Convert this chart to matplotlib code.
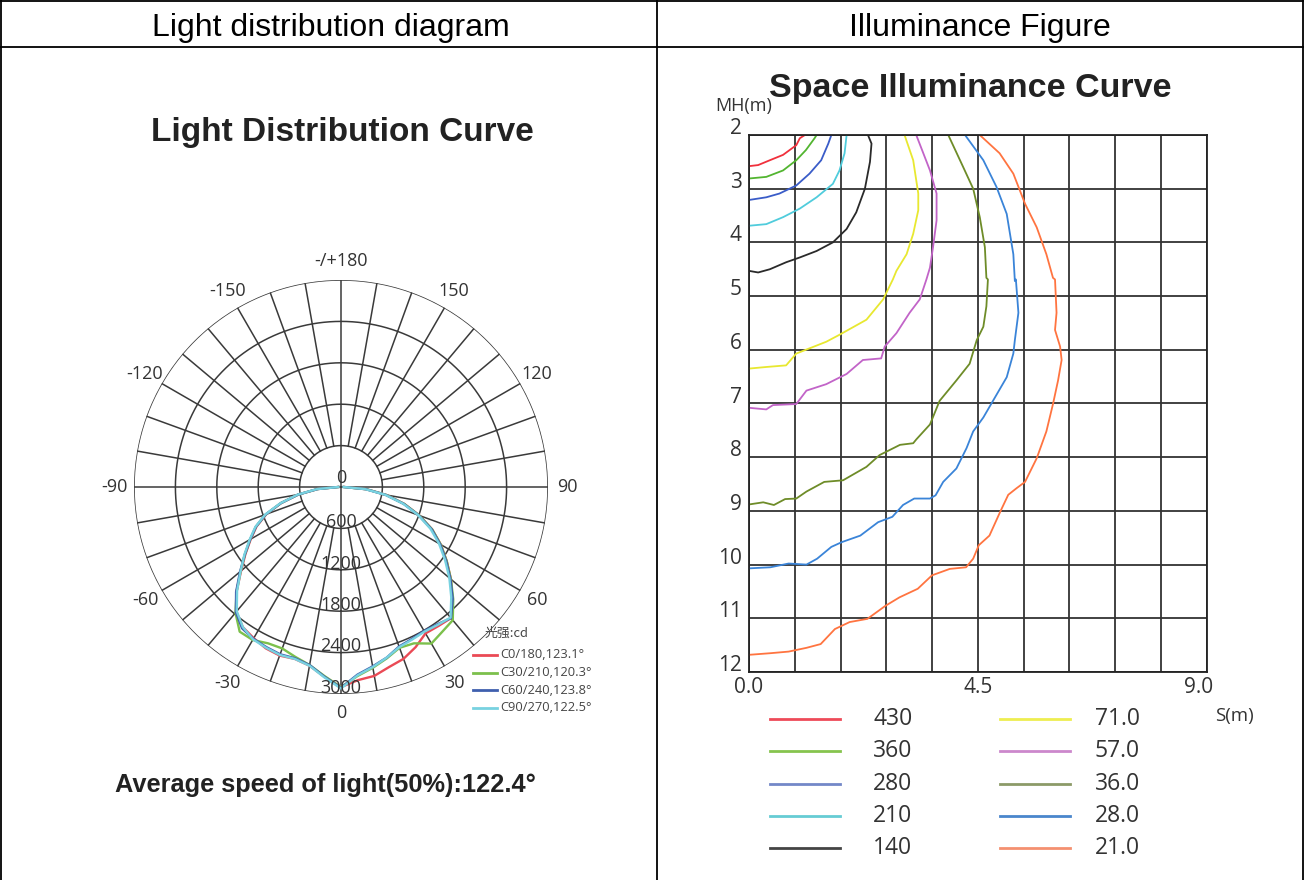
import numpy as np
import matplotlib.pyplot as plt
from matplotlib.lines import Line2D

W, H = 1304, 880

# ---- light distribution data (cd), angles in degrees, 0 = straight down ----
left_angles = [-90, -85, -80, -75, -70, -65, -60, -55, -50, -45, -40, -35, -30, -25, -20, -15, -10, -5, 0]
right_angles = [5, 10, 15, 20, 25, 30, 35, 40, 45, 50, 55, 60, 65, 70, 75, 80, 85, 90]

c0_left = [40, 340, 630, 900, 1150, 1350, 1510, 1690, 1890, 2140, 2360, 2480, 2530, 2580, 2600, 2580, 2630, 2760, 2900]
c30_left = [40, 340, 630, 900, 1160, 1360, 1520, 1700, 1900, 2140, 2380, 2560, 2560, 2500, 2490, 2550, 2620, 2750, 2900]
c60_left = [40, 340, 630, 900, 1160, 1360, 1520, 1700, 1910, 2150, 2370, 2500, 2540, 2560, 2580, 2570, 2620, 2760, 2910]
c90_left = [40, 350, 640, 910, 1170, 1370, 1530, 1710, 1900, 2130, 2350, 2480, 2550, 2570, 2590, 2580, 2630, 2770, 2920]

c0_right = [2810, 2780, 2700, 2650, 2560, 2450, 2460, 2480, 2280, 2080, 1870, 1670, 1460, 1210, 950, 670, 370, 50]
c30_right = [2750, 2660, 2570, 2480, 2500, 2620, 2560, 2520, 2300, 2080, 1870, 1670, 1460, 1210, 950, 670, 370, 40]
c60_right = [2730, 2640, 2560, 2460, 2430, 2410, 2430, 2480, 2290, 2070, 1860, 1660, 1450, 1200, 940, 660, 360, 40]
c90_right = [2740, 2650, 2560, 2470, 2440, 2420, 2440, 2470, 2260, 2050, 1840, 1640, 1430, 1190, 930, 650, 350, 40]

polar_names = ["C0/180,123.1°", "C30/210,120.3°", "C60/240,123.8°", "C90/270,122.5°"]
polar_colors = ["#ea4a55", "#7cc04c", "#3f5fae", "#78d2e0"]
ring_values = [600, 1200, 1800, 2400, 3000]

# ---- space illuminance curves: (S in m, MH in m) ----
lux_labels = ["430", "360", "280", "210", "140", "71.0", "57.0", "36.0", "28.0", "21.0"]
lux_colors = ["#f0303c", "#52b530", "#3a5cc8", "#50ccdc", "#2a2a2a",
              "#e8e830", "#c264c8", "#6e8c28", "#3a84d8", "#ff7440"]
legend_colors = ["#ee4a58", "#86c44e", "#7388c8", "#66ccd4", "#444444",
                 "#eeee50", "#cc88cc", "#8c9a68", "#4a86cc", "#f49070"]

s430 = [0, 0.18, 0.41, 0.67, 0.93, 1.0, 1.1]
mh430 = [2.58, 2.56, 2.47, 2.37, 2.19, 2.06, 2.0]
s360 = [0, 0.34, 0.67, 0.93, 1.12, 1.29, 1.33]
mh360 = [2.81, 2.78, 2.66, 2.47, 2.28, 2.06, 2.0]
s280 = [0, 0.34, 0.6, 0.93, 1.19, 1.42, 1.56, 1.62]
mh280 = [3.21, 3.16, 3.09, 2.94, 2.72, 2.47, 2.16, 2.0]
s210 = [0, 0.34, 0.67, 1.0, 1.33, 1.65, 1.78, 1.88, 1.92]
mh210 = [3.69, 3.66, 3.53, 3.37, 3.16, 2.91, 2.66, 2.34, 2.0]
s140 = [0, 0.18, 0.41, 0.73, 1.0, 1.33, 1.65, 1.92, 2.11, 2.28, 2.38, 2.41, 2.34]
mh140 = [4.53, 4.56, 4.5, 4.37, 4.28, 4.16, 4.0, 3.75, 3.44, 3.0, 2.5, 2.16, 2.0]
s71 = [0, 0.34, 0.73, 0.93, 1.52, 1.78, 2.31, 2.64, 2.83, 2.9, 3.1, 3.23, 3.33, 3.33, 3.23, 3.06]
mh71 = [6.35, 6.32, 6.29, 6.07, 5.85, 5.72, 5.44, 5.06, 4.69, 4.53, 4.22, 3.84, 3.4, 3.09, 2.47, 2.0]
s57 = [0, 0.34, 0.47, 0.93, 1.13, 1.52, 1.92, 2.24, 2.6, 2.67, 2.9, 3.16, 3.36, 3.49,
       3.56, 3.62, 3.69, 3.69, 3.56, 3.29]
mh57 = [7.08, 7.11, 7.03, 7.01, 6.76, 6.64, 6.45, 6.19, 6.16, 5.94, 5.69, 5.31, 5.06, 4.69,
        4.47, 4.09, 3.59, 3.09, 2.66, 2.0]
s36 = [0, 0.28, 0.49, 0.71, 0.93, 1.13, 1.48, 1.85, 2.31, 2.57, 2.97, 3.23, 3.29, 3.56, 3.75,
       4.08, 4.34, 4.48, 4.61, 4.67, 4.7, 4.67, 4.64, 4.54, 4.41, 4.21, 3.92]
mh36 = [8.88, 8.84, 8.89, 8.78, 8.77, 8.64, 8.46, 8.43, 8.18, 7.96, 7.77, 7.74, 7.67, 7.39, 6.95,
        6.57, 6.26, 5.82, 5.57, 5.19, 4.69, 4.66, 4.09, 3.53, 3.0, 2.59, 2.0]
s28 = [0, 0.42, 0.78, 1.13, 1.34, 1.62, 1.83, 2.19, 2.54, 2.82, 3.03, 3.25, 3.56, 3.67, 3.82,
       4.08, 4.28, 4.41, 4.61, 4.8, 5.07, 5.2, 5.23, 5.3, 5.25, 5.23, 5.2, 5.07, 4.87, 4.61, 4.25]
mh28 = [10.07, 10.05, 9.98, 10.0, 9.89, 9.67, 9.58, 9.46, 9.21, 9.11, 8.89, 8.77, 8.77, 8.71, 8.46,
        8.21, 7.83, 7.52, 7.26, 6.95, 6.51, 6.07, 5.82, 5.31, 4.69, 4.72, 4.22, 3.47, 2.97, 2.47, 2.0]
s21 = [0, 0.42, 0.78, 1.13, 1.41, 1.69, 1.98, 2.33, 2.68, 2.96, 3.32, 3.6, 3.95, 4.27, 4.41,
       4.52, 4.73, 4.94, 5.1, 5.26, 5.43, 5.66, 5.85, 5.98, 6.08, 6.15, 6.12, 6.02, 6.05, 6.02,
       5.98, 5.85, 5.66, 5.43, 5.2, 4.93, 4.54]
mh21 = [11.68, 11.65, 11.62, 11.55, 11.48, 11.2, 11.07, 11.01, 10.77, 10.61, 10.45, 10.2, 10.08,
        10.05, 9.89, 9.64, 9.46, 9.02, 8.7, 8.58, 8.46, 8.02, 7.52, 7.01, 6.57, 6.19, 5.94, 5.63,
        5.31, 4.69, 4.66, 4.22, 3.72, 3.28, 2.72, 2.34, 2.0]

lux_s = [s430, s360, s280, s210, s140, s71, s57, s36, s28, s21]
lux_mh = [mh430, mh360, mh280, mh210, mh140, mh71, mh57, mh36, mh28, mh21]

mh_ticks = list(range(2, 13))
s_grid = [0.9 * k for k in range(11)]
s_ticks = [0.0, 4.5, 9.0]

fig = plt.figure(figsize=(W / 100, H / 100), dpi=100)


def fx(px):
    return px / W


def fy(py):
    return 1 - py / H


# table frame
border = dict(color="black", lw=1.3, transform=fig.transFigure)
fig.add_artist(Line2D([fx(1), fx(1303)], [fy(1), fy(1)], **border))
fig.add_artist(Line2D([fx(1), fx(1303)], [fy(47), fy(47)], **border))
fig.add_artist(Line2D([fx(1), fx(1)], [fy(0), fy(880)], **border))
fig.add_artist(Line2D([fx(1302.5), fx(1302.5)], [fy(0), fy(880)], **border))
fig.add_artist(Line2D([fx(657), fx(657)], [fy(0), fy(880)], **border))
fig.text(fx(331), fy(28), "Light distribution diagram", ha="center", va="center",
         fontsize=23, family="Liberation Sans")
fig.text(fx(980), fy(28), "Illuminance Figure", ha="center", va="center",
         fontsize=23, family="Liberation Sans")

# ---------------- polar diagram ----------------
fig.text(fx(342), fy(132), "Light Distribution Curve", ha="center", va="center",
         fontsize=24, fontweight="bold", family="Liberation Sans", color="#222222")
fig.text(fx(325), fy(785), "Average speed of light(50%):122.4°", ha="center", va="center",
         fontsize=18.3, fontweight="bold", family="Liberation Sans", color="#222222")

R = 207
pax = fig.add_axes([fx(341 - R), fy(487 + R), 2 * R / W, 2 * R / H], projection="polar")
pax.set_theta_zero_location("S")
pax.set_theta_direction(1)
pax.set_ylim(0, 3000)
pax.grid(False)
pax.set_xticks([])
pax.set_yticks([])
pax.spines["polar"].set_visible(False)
pax.patch.set_alpha(0)

gc = "#3a3a3a"
th = np.linspace(0, 2 * np.pi, 721)
for rv in ring_values:
    pax.plot(th, np.full_like(th, rv), color=gc, lw=1.1)
for a in range(0, 360, 10):
    t = np.deg2rad(a)
    r0 = 0 if a % 90 == 0 else 600
    pax.plot([t, t], [r0, 3000], color=gc, lw=1.1)

angle_labels = {0: "0", 30: "30", 60: "60", 90: "90", 120: "120", 150: "150", 180: "-/+180",
                -30: "-30", -60: "-60", -90: "-90", -120: "-120", -150: "-150"}
for a, lab in angle_labels.items():
    pax.text(np.deg2rad(a), 3280, lab, ha="center", va="center", fontsize=13,
             family="Open Sans", color="#333333", clip_on=False)
pax.text(np.pi, 130, "0", ha="center", va="center", fontsize=13, family="Open Sans", color="#333333")
for rv in ring_values:
    pax.text(0, rv - 90, str(rv), ha="center", va="center", fontsize=13,
             family="Open Sans", color="#333333")

lefts = [c0_left, c30_left, c60_left, c90_left]
rights = [c0_right, c30_right, c60_right, c90_right]
angs = np.deg2rad(left_angles + right_angles)
for lv, rv, col in zip(lefts, rights, polar_colors):
    pax.plot(angs, lv + rv, color=col, lw=1.7)

fig.text(fx(485), fy(633), "光强:cd", ha="left", va="center", fontsize=9.3,
         family=["Noto Sans CJK SC", "DejaVu Sans"], color="#444444")
for i, (name, col) in enumerate(zip(polar_names, polar_colors)):
    y = 655 + 17.5 * i
    fig.add_artist(Line2D([fx(473), fx(497)], [fy(y), fy(y)], color=col, lw=2,
                          transform=fig.transFigure))
    fig.text(fx(500), fy(y), name, ha="left", va="center", fontsize=9.3,
             family="Open Sans", color="#444444")

# ---------------- illuminance grid ----------------
fig.text(fx(970), fy(88), "Space Illuminance Curve", ha="center", va="center",
         fontsize=24.5, fontweight="bold", family="Liberation Sans", color="#222222")

ax = fig.add_axes([fx(749), fy(672), 457.5 / W, 537 / H])
ax.set_xlim(0, 9)
ax.set_ylim(12, 2)
ax.set_xticks([])
ax.set_yticks([])
for sp in ax.spines.values():
    sp.set_color("#222222")
    sp.set_linewidth(1.3)
for x in s_grid:
    ax.axvline(x, color="#333333", lw=1.3)
for y in mh_ticks:
    ax.axhline(y, color="#333333", lw=1.3)

for s, mh, col in zip(lux_s, lux_mh, lux_colors):
    ax.plot(s, mh, color=col, lw=1.3)

for v in mh_ticks:
    ax.text(-0.14, v - 0.12, str(v), ha="right", va="center", fontsize=15,
            family="Open Sans", color="#333333", clip_on=False)
for v, pos in zip(s_ticks, [0.0, 4.5, 8.85]):
    ax.text(pos, 12.28, f"{v:.1f}", ha="center", va="center", fontsize=15,
            family="Open Sans", color="#333333", clip_on=False)
fig.text(fx(744), fy(106), "MH(m)", ha="center", va="center", fontsize=13,
         family="Open Sans", color="#333333")
fig.text(fx(1234), fy(716), "S(m)", ha="center", va="center", fontsize=13.5,
         family="Open Sans", color="#333333")

for i, (lab, col) in enumerate(zip(lux_labels, legend_colors)):
    col_i, row = divmod(i, 5)
    y = 719 + 32.3 * row
    x0 = 770 + 230 * col_i
    fig.add_artist(Line2D([fx(x0), fx(x0 + 70)], [fy(y), fy(y)], color=col, lw=2,
                          transform=fig.transFigure))
    fig.text(fx(873 + 222 * col_i), fy(y), lab, ha="left", va="center", fontsize=16.5,
             family="Open Sans", color="#333333")

fig.savefig("out.png", dpi=100)
